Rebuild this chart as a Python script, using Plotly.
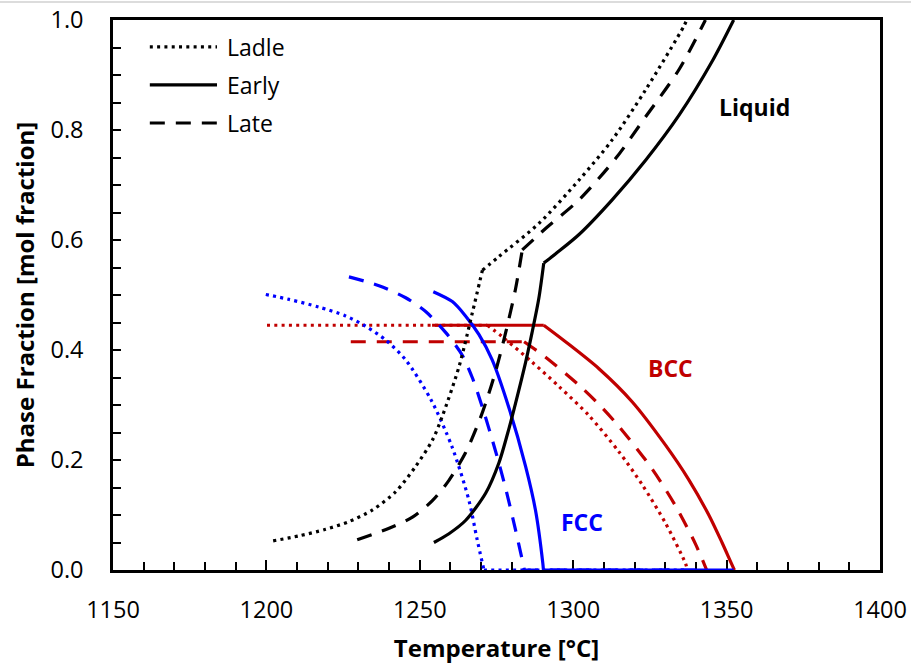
import plotly.graph_objects as go

# ---------------- data ----------------
series_names = ["Ladle", "Early", "Late"]

# Ladle
ladle_liq_T = [1202.2, 1210.6, 1219.3, 1226.9, 1234.5, 1242.1, 1248.6, 1254.1, 1257.3, 1262.8, 1267.1, 1270.4,
               1275.8, 1288.8, 1301.9, 1312.7, 1323.6, 1336.0, 1337.0]
ladle_liq_v = [0.053, 0.062, 0.074, 0.088, 0.109, 0.142, 0.188, 0.236, 0.279, 0.370, 0.467, 0.545,
               0.570, 0.630, 0.709, 0.782, 0.873, 0.988, 1.000]
ladle_fcc_T = [1199.8, 1207.4, 1217.1, 1225.8, 1232.4, 1238.9, 1245.4, 1253.7, 1260.5, 1266.0, 1268.7,
               1270.9, 1337.0]
ladle_fcc_v = [0.501, 0.492, 0.478, 0.462, 0.443, 0.418, 0.382, 0.309, 0.224, 0.127, 0.055,
               0.000, 0.000]
ladle_bcc_T = [1200.2, 1272.0, 1276.9, 1286.6, 1295.3, 1305.1, 1314.9, 1322.5, 1330.1, 1336.6, 1337.2]
ladle_bcc_v = [0.445, 0.445, 0.424, 0.378, 0.334, 0.281, 0.215, 0.155, 0.085, 0.012, 0.000]

# Early
early_liq_T = [1254.6, 1259.5, 1264.9, 1271.5, 1275.8, 1279.1, 1281.2, 1284.5, 1286.6, 1288.8, 1290.4,
               1294.3, 1301.9, 1312.7, 1323.6, 1334.5, 1345.3, 1352.3]
early_liq_v = [0.050, 0.066, 0.090, 0.140, 0.195, 0.258, 0.303, 0.378, 0.432, 0.494, 0.558,
               0.575, 0.610, 0.673, 0.745, 0.827, 0.925, 1.000]
early_fcc_T = [1254.4, 1260.6, 1264.9, 1269.3, 1273.6, 1279.1, 1284.5, 1287.7, 1290.1, 1290.3, 1352.3]
early_fcc_v = [0.506, 0.488, 0.462, 0.428, 0.382, 0.294, 0.188, 0.109, 0.012, 0.000, 0.000]
early_bcc_T = [1254.0, 1290.4, 1297.5, 1308.4, 1319.2, 1330.1, 1337.7, 1344.2, 1348.5, 1352.3, 1352.6]
early_bcc_v = [0.445, 0.445, 0.415, 0.366, 0.306, 0.227, 0.164, 0.100, 0.050, 0.003, 0.000]

# Late
late_liq_T = [1229.6, 1240.0, 1247.6, 1254.1, 1259.5, 1264.9, 1269.3, 1271.5, 1274.7, 1278.0, 1281.2, 1283.4,
              1291.0, 1301.9, 1313.8, 1323.6, 1334.5, 1343.1]
late_liq_v = [0.055, 0.076, 0.096, 0.126, 0.163, 0.213, 0.270, 0.304, 0.361, 0.432, 0.511, 0.582,
              0.621, 0.673, 0.748, 0.824, 0.910, 1.000]
late_fcc_T = [1226.9, 1236.7, 1245.4, 1251.9, 1258.4, 1263.8, 1267.1, 1270.4, 1274.7, 1278.0, 1281.2, 1283.4,
              1284.1, 1343.3]
late_fcc_v = [0.533, 0.517, 0.495, 0.470, 0.432, 0.391, 0.350, 0.296, 0.216, 0.148, 0.073, 0.018,
              0.000, 0.000]
late_bcc_T = [1227.5, 1284.0, 1291.0, 1301.9, 1308.4, 1314.9, 1325.7, 1333.3, 1339.8, 1343.5]
late_bcc_v = [0.415, 0.415, 0.387, 0.336, 0.301, 0.261, 0.184, 0.117, 0.048, 0.000]

x_ticks = [1150, 1200, 1250, 1300, 1350, 1400]
y_ticks = [0.0, 0.2, 0.4, 0.6, 0.8, 1.0]

phase_labels = {"Liquid": (1359.0, 0.842), "BCC": (1331.7, 0.367), "FCC": (1302.8, 0.088)}

# ---------------- styling ----------------
FONT = "Open Sans"
C_LIQ, C_BCC, C_FCC = "#000000", "#C00000", "#0000FF"
DASH = {"Ladle": "3px,4.3px", "Early": "solid", "Late": "15px,11px"}
LW = 3.2

data = {
    "Ladle": (ladle_liq_T, ladle_liq_v, ladle_fcc_T, ladle_fcc_v, ladle_bcc_T, ladle_bcc_v),
    "Early": (early_liq_T, early_liq_v, early_fcc_T, early_fcc_v, early_bcc_T, early_bcc_v),
    "Late": (late_liq_T, late_liq_v, late_fcc_T, late_fcc_v, late_bcc_T, late_bcc_v),
}


def liquid_kink(T, v):
    # index where the slope drops most abruptly (start of the shallow upper branch)
    best, idx = 0, 1
    for i in range(1, len(T) - 1):
        s1 = (v[i] - v[i - 1]) / (T[i] - T[i - 1])
        s2 = (v[i + 1] - v[i]) / (T[i + 1] - T[i])
        if s1 - s2 > best:
            best, idx = s1 - s2, i
    return idx


def segments(phase, T, v):
    """split a curve into (slice, shape) pieces so sharp corners stay sharp"""
    n = len(T)
    if phase == "liq":
        k = liquid_kink(T, v)
        return [(slice(0, k + 1), "spline"), (slice(k, n), "spline")]
    if phase == "fcc":
        z = v.index(0.0)
        return [(slice(0, z + 1), "spline"), (slice(z, n), "linear")]
    # bcc: flat plateau then decreasing curve
    return [(slice(0, 2), "linear"), (slice(1, n), "spline")]


fig = go.Figure()
# draw order: BCC, FCC, Liquid
for phase, pidx, color in [("bcc", 2, C_BCC), ("fcc", 1, C_FCC), ("liq", 0, C_LIQ)]:
    for name in series_names:
        T, v = data[name][2 * pidx], data[name][2 * pidx + 1]
        for sl, shp in segments(phase, T, v):
            fig.add_trace(go.Scatter(
                x=T[sl], y=v[sl], mode="lines",
                line=dict(color=color, width=LW, dash=DASH[name], shape=shp, smoothing=0.8),
                showlegend=False, cliponaxis=False, hoverinfo="skip"))

# phase labels
for (txt, (tx, ty)), col in zip(phase_labels.items(), [C_LIQ, C_BCC, C_FCC]):
    fig.add_annotation(x=tx, y=ty, text=f"<b>{txt}</b>", showarrow=False,
                       font=dict(family=FONT, size=23, color=col))

# manual legend (paper coordinates)
leg_y = [0.951, 0.882, 0.8127]
for name, ly in zip(series_names, leg_y):
    fig.add_shape(type="line", xref="paper", yref="paper", x0=0.048, x1=0.1356, y0=ly, y1=ly,
                  line=dict(color="black", width=LW, dash=DASH[name]))
    fig.add_annotation(xref="paper", yref="paper", x=0.146, y=ly, text=name, showarrow=False,
                       xanchor="left", yanchor="middle", font=dict(family=FONT, size=23, color="black"))

# thin grey frame line at very top of image
fig.add_shape(type="line", xref="paper", yref="paper", x0=-0.2, x1=1.1, y0=1.0327, y1=1.0327,
              line=dict(color="#d0d0d0", width=1.5))

axis_common = dict(showgrid=False, zeroline=False, showline=True, linecolor="black", linewidth=2.5,
                   mirror=True, ticks="inside", tickcolor="black", tickwidth=2,
                   tickfont=dict(family=FONT, size=23.5, color="black"), layer="below traces")

fig.update_xaxes(range=[1150, 1400], tickvals=x_ticks, ticklen=10, ticklabelstandoff=17,
                 minor=dict(dtick=10, tick0=1150, ticks="inside", ticklen=8, tickwidth=2, tickcolor="black"),
                 title=dict(text="<b>Temperature [°C]</b>", font=dict(family=FONT, size=24, color="black"),
                            standoff=18),
                 **axis_common)
fig.update_yaxes(range=[0, 1], tickvals=y_ticks, tickformat=".1f", ticklen=8, ticklabelstandoff=22,
                 minor=dict(dtick=0.05, tick0=0, ticks="inside", ticklen=8, tickwidth=2, tickcolor="black"),
                 title=dict(text="<b>Phase Fraction [mol fraction]</b>",
                            font=dict(family=FONT, size=24, color="black"), standoff=10),
                 **axis_common)

fig.update_layout(width=911, height=664, autosize=False,
                  margin=dict(l=113, r=31, t=20, b=94, autoexpand=False),
                  plot_bgcolor="white", paper_bgcolor="white",
                  font=dict(family=FONT, color="black"), showlegend=False)

fig.write_html("out.html")
